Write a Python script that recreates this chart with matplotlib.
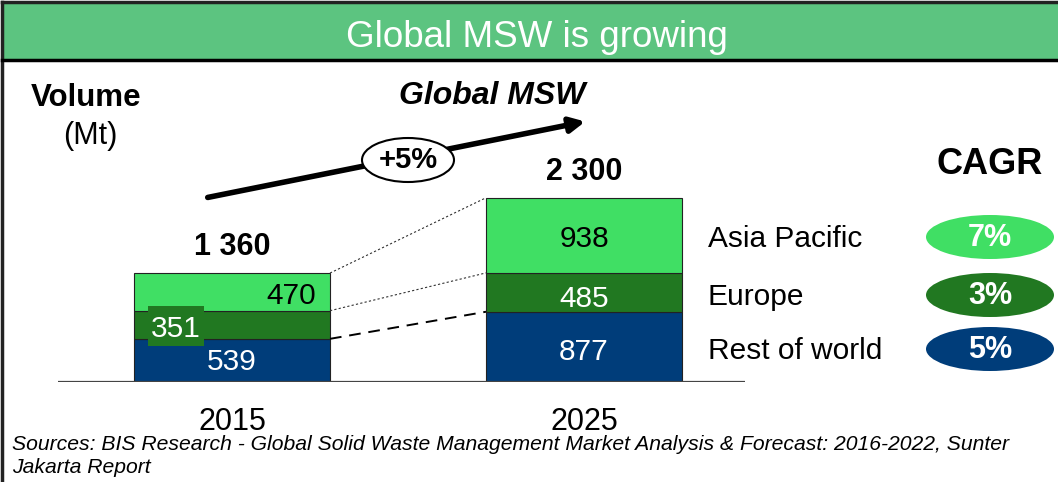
import matplotlib
matplotlib.use("Agg")
import matplotlib.pyplot as plt
from matplotlib.patches import Rectangle, Ellipse
import numpy as np

plt.rcParams['font.family'] = ['Liberation Sans', 'DejaVu Sans']

# data
years = ['2015', '2025']
regions = ['Rest of world', 'Europe', 'Asia Pacific']
rest_of_world = [539, 877]
europe = [351, 485]
asia_pacific = [470, 938]
totals = ['1 360', '2 300']
cagr = ['5%', '3%', '7%']
global_cagr = '+5%'

navy = '#003D7A'
dkgreen = '#217821'
ltgreen = '#40DF64'
banner = '#5CC480'

W, H = 1058, 482
fig = plt.figure(figsize=(W / 100, H / 100), dpi=100)

# bar axes (pixel layout: baseline y=382, bars centred at x=232 and 584)
scale = 0.0801  # px per Mt
ax = fig.add_axes([58 / W, 100 / H, (745 - 58) / W, 232 / H])
ax.set_xlim((58 - 232) / 352, (745 - 232) / 352)
ax.set_ylim(0, 232 / scale)
ax.axis('off')
ax.axhline(0, color='#444444', lw=1.6, xmin=0, xmax=1)

x = np.arange(len(years))
bw = 196 / 352
rw = np.array(rest_of_world)
eu = np.array(europe)
ap = np.array(asia_pacific)
ax.bar(x, rw, bw, color=navy, edgecolor='#222222', lw=0.8)
ax.bar(x, eu, bw, bottom=rw, color=dkgreen, edgecolor='#222222', lw=0.8)
ax.bar(x, ap, bw, bottom=rw + eu, color=ltgreen, edgecolor='#222222', lw=0.8)

# connectors between bars
x0, x1 = x[0] + bw / 2, x[1] - bw / 2
ax.plot([x0, x1], [rw[0], rw[1]], color='black', lw=1.4, ls=(0, (6, 4)))
ax.plot([x0, x1], [rw[0] + eu[0], rw[1] + eu[1]], color='#333333', lw=0.8, ls=(0, (2, 2)))
ax.plot([x0, x1], [rw[0] + eu[0] + ap[0], rw[1] + eu[1] + ap[1]], color='#333333', lw=0.8, ls=(0, (2, 2)))

for i in range(2):
    ax.text(x[i], rw[i] + eu[i] + ap[i] + 140, totals[i], ha='center', va='bottom',
            fontsize=22, fontweight='bold')

# overlay in pixel coordinates
ov = fig.add_axes([0, 0, 1, 1])
ov.set_xlim(0, W)
ov.set_ylim(H, 0)
ov.axis('off')

# segment labels
seg_fs = 21.5
ov.text(232, 370, str(rw[0]), ha='center', va='baseline', color='white', fontsize=seg_fs)
ov.text(291, 304, str(ap[0]), ha='center', va='baseline', color='black', fontsize=seg_fs)
ov.add_patch(Rectangle((148, 306), 56, 40, facecolor=dkgreen, edgecolor='none'))
ov.text(176, 337, str(eu[0]), ha='center', va='baseline', color='white', fontsize=seg_fs)
ov.text(584, 360, str(rw[1]), ha='center', va='baseline', color='white', fontsize=seg_fs)
ov.text(584, 307, str(eu[1]), ha='center', va='baseline', color='white', fontsize=seg_fs)
ov.text(584, 247, str(ap[1]), ha='center', va='baseline', color='black', fontsize=seg_fs)

# frame and banner
ov.add_patch(Rectangle((3, 3), W, 57, facecolor=banner, edgecolor='none'))
ov.plot([2, W], [2, 2], color='#222222', lw=2.5)
ov.plot([2, 2], [2, H], color='#222222', lw=2.5)
ov.plot([2, W], [60, 60], color='black', lw=2.5)
ov.text(537, 47, 'Global MSW is growing', ha='center', va='baseline', color='white', fontsize=26.5)

ov.text(86, 106, 'Volume', ha='center', va='baseline', fontsize=22.5, fontweight='bold')
ov.text(90, 144, '(Mt)', ha='center', va='baseline', fontsize=22)
ov.text(492, 104, 'Global MSW', ha='center', va='baseline', fontsize=23,
        fontweight='bold', fontstyle='italic')

ov.annotate('', xy=(588, 121), xytext=(205, 198),
            arrowprops=dict(arrowstyle='-|>', lw=4, color='black', mutation_scale=22))
ov.add_patch(Ellipse((408, 160), 92, 44, facecolor='white', edgecolor='black', lw=1.5, zorder=3))
ov.text(408, 168, global_cagr, ha='center', va='baseline', fontsize=21, fontweight='bold', zorder=4)

# region names and CAGR bubbles
ys = [349, 295, 237]
cols = [navy, dkgreen, ltgreen]
for name, c, yy, col in zip(regions, cagr, ys, cols):
    ov.text(708, yy + 10, name, ha='left', va='baseline', fontsize=21.5)
    ov.add_patch(Ellipse((990, yy), 128, 44, facecolor=col, edgecolor='none'))
    ov.text(990, yy + 9, c, ha='center', va='baseline', color='white', fontsize=22, fontweight='bold')
ov.text(990, 174, 'CAGR', ha='center', va='baseline', fontsize=26, fontweight='bold')

for i, yr in enumerate([232, 584]):
    ov.text(yr, 430, years[i], ha='center', va='baseline', fontsize=22)

ov.text(12, 450, 'Sources: BIS Research - Global Solid Waste Management Market Analysis & Forecast: 2016-2022, Sunter',
        ha='left', va='baseline', fontsize=15.2, fontstyle='italic')
ov.text(12, 473, 'Jakarta Report', ha='left', va='baseline', fontsize=15.2, fontstyle='italic')

fig.savefig('out.png', dpi=100)
